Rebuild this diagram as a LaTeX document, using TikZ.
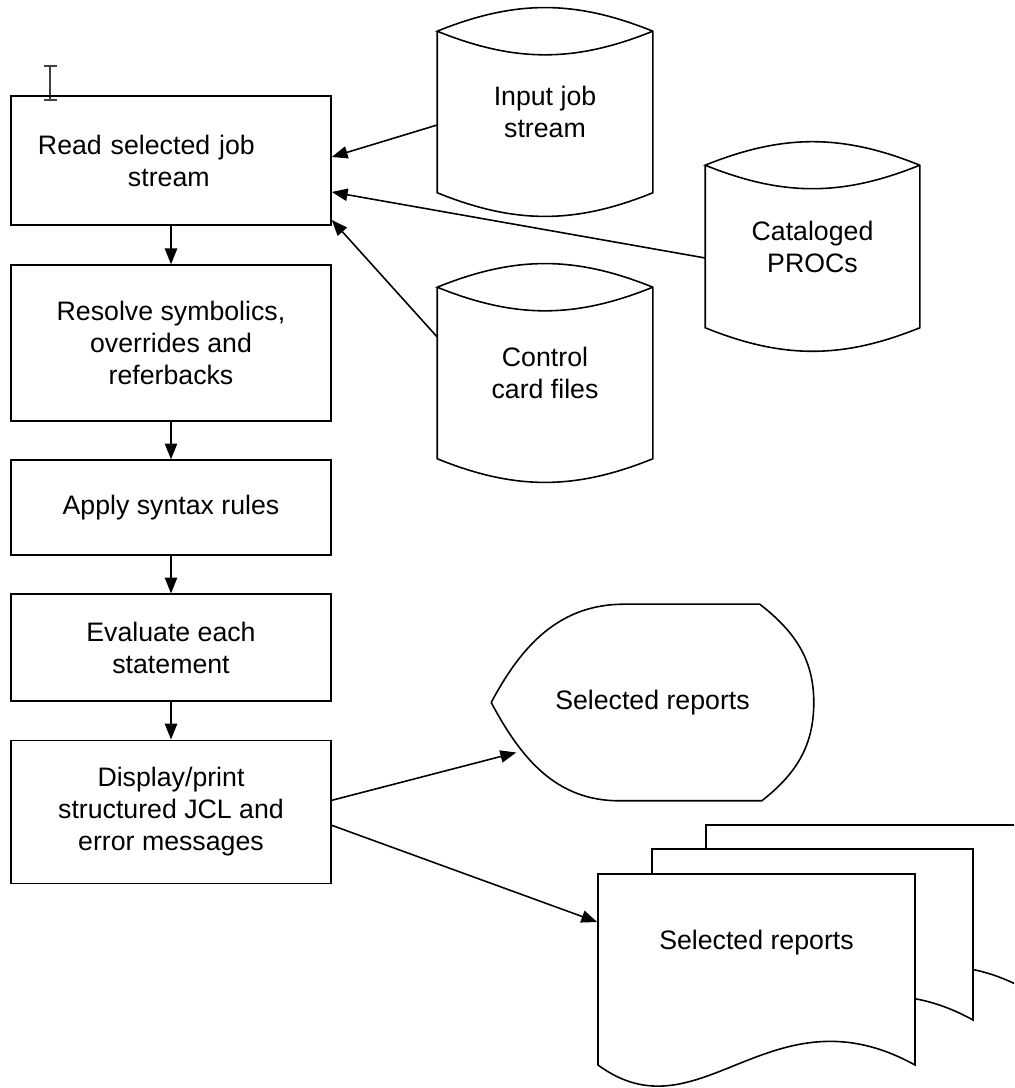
\documentclass[tikz,border=0pt]{standalone}
\usepackage{fontspec}
\setmainfont{Liberation Sans}
\usetikzlibrary{positioning,arrows.meta}

% outline of a disk drum round a node
\newcommand{\drumoutline}[1]{%
  \draw (#1.north west) -- (#1.south west) to[bend right=22] (#1.south east)
    -- (#1.north east) to[bend right=22] (#1.north west) to[bend right=22] (#1.north east);}
% one printed page: left, top, right, bottom
\newcommand{\reportpage}[4]{%
  \filldraw[fill=white] (#3,#4) -- (#3,#2) -- (#1,#2) -- (#1,#4)
    .. controls +(2.04,-1.5) and +(-2.9,1.6) .. (#3,#4) -- cycle;}

\begin{document}
\begin{tikzpicture}[%
    >={Triangle[length=9pt,width=7pt]},
    line width=0.9pt,
    font=\fontsize{15.2}{18.2}\selectfont,
    process/.style={draw, rectangle, minimum width=6.4cm, inner sep=0pt, align=center},
    drum/.style={rectangle, minimum width=4.28cm, inner sep=0pt, align=center},
    screen/.style={rectangle, inner sep=0pt, align=center}
  ]

  \useasboundingbox (0,0) rectangle (20.28,21.76);
  \clip (0,0) rectangle (20.28,21.76);

  %\draw[help lines] (0,0) grid (20,21);

  % text cursor
  \draw[line width=1.2pt, black!75] (0.88,20.44) -- (1.14,20.44)
    (1.0,20.44) -- (1.0,19.78) (0.88,19.76) -- (1.14,19.76);

  \node[process, text width=6.4cm, align=left, minimum height=2.58cm] (read) at (3.42,18.55)
    {\hspace*{0.54cm}Read selected job\\\hspace*{2.34cm}stream};
  \node[process, minimum height=3.12cm] (resolve) [below=0.77cm of read] {Resolve symbolics,\\overrides and\\referbacks};
  \node[process, minimum height=1.9cm] (syntax) [below=0.75cm of resolve] {Apply syntax rules};
  \node[process, minimum height=2.14cm] (evaluate) [below=0.75cm of syntax] {Evaluate each\\statement};
  \node[process, minimum height=2.86cm] (print) [below=0.75cm of evaluate] {Display/print\\structured JCL and\\error messages};

  \node[drum, minimum height=3.2cm] (input) at (10.9,19.52) {Input job\\stream};
  \node[drum, minimum width=4.26cm, minimum height=3.22cm] (procs) at (16.25,16.83) {Cataloged\\PROCs};
  \node[drum, minimum height=3.4cm] (cards) at (10.9,14.3) {Control\\card files};
  \drumoutline{input}
  \drumoutline{procs}
  \drumoutline{cards}

  \node[screen, minimum width=6.42cm, minimum height=3.9cm] (shown) at (13.05,7.71) {Selected reports};
  \draw (shown.west) to[out=62,in=180] ([xshift=2.66cm]shown.north west)
    -- ([xshift=-1.08cm]shown.north east) to[out=-38,in=90] (shown.east)
    to[out=-90,in=38] ([xshift=-1.04cm]shown.south east)
    -- ([xshift=2.56cm]shown.south west) to[out=180,in=-62] (shown.west);

  \reportpage{14.12}{5.26}{20.54}{1.96}
  \reportpage{13.04}{4.78}{19.46}{1.36}
  \reportpage{11.96}{4.28}{18.3}{0.46}
  \node[rectangle, minimum width=6.34cm, minimum height=2.76cm, inner sep=0pt] (report) at (15.13,2.9) {Selected reports};

  \path[->]
      (read) edge (resolve)
      (resolve) edge (syntax)
      (syntax) edge (evaluate)
      (evaluate) edge (print);

  \draw[->] ([yshift=-0.26cm]input.west) -- ([yshift=0.07cm]read.east);
  \draw[->] ([yshift=-0.23cm]procs.west) -- ([yshift=-0.63cm]read.east);
  \draw[->] ([yshift=0.72cm]cards.west) -- ([yshift=-1.19cm]read.east);

  \draw[->] ([yshift=0.23cm]print.east) -- ([xshift=0.5cm,yshift=-1cm]shown.west);
  \draw[->] ([yshift=-0.27cm]print.east) -- ([yshift=0.42cm]report.west);

\end{tikzpicture}
\end{document}
